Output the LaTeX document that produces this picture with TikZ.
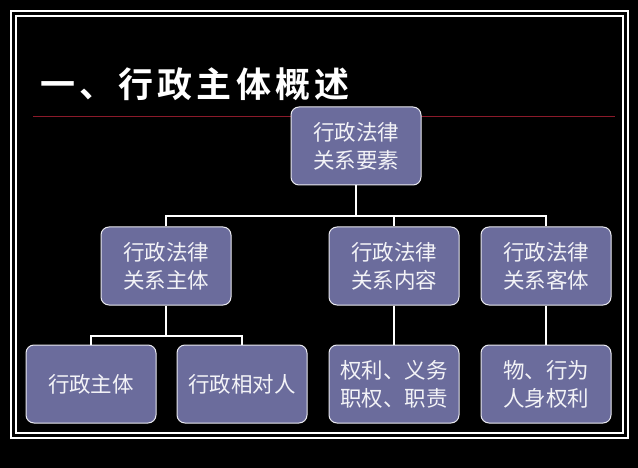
\documentclass[tikz,border=0pt]{standalone}
\usepackage{fontspec}
\newfontfamily\cjk{Noto Sans CJK SC}
\newfontfamily\cjkb[LetterSpace=12]{Noto Sans CJK SC Bold}
\definecolor{boxfill}{HTML}{6B6C9C}
\definecolor{redline}{HTML}{8B1A2A}
\begin{document}
\begin{tikzpicture}[x=1pt,y=-1pt,
  bx/.style={draw=white!85!boxfill,line width=1pt,fill=boxfill,rounded corners=8pt,minimum width=130pt,minimum height=78pt,inner sep=0pt,text=white!92!boxfill,font=\cjk\fontsize{21.5}{28}\selectfont,align=center},
  ln/.style={draw=white,line width=1.5pt}]
\fill[black] (0,0) rectangle (638,468);
\useasboundingbox (0,0) rectangle (638,468);
\draw[white,line width=2.5pt] (11,11) rectangle (628,438);
\draw[white,line width=1.5pt] (16,16) rectangle (623,433);
\draw[redline,line width=1pt] (33,117) -- (615,117);
\node[anchor=west,text=white,font=\cjkb\fontsize{35}{40}\selectfont,inner sep=0pt] (title) at (40,84) {一、行政主体概述};
\node[bx] (top) at (356,146) {行政法律\\关系要素};
\node[bx] (a) at (166,266) {行政法律\\关系主体};
\node[bx] (b) at (394,266) {行政法律\\关系内容};
\node[bx] (c) at (546,266) {行政法律\\关系客体};
\node[bx] (d) at (91,384) {行政主体};
\node[bx] (e) at (242,384) {行政相对人};
\node[bx] (f) at (394,384) {权利、义务\\职权、职责};
\node[bx] (g) at (546,384) {物、行为\\人身权利};
\coordinate (h1) at (356,216);
\draw[ln] (top.south) -- (h1);
\draw[ln] (a.north) |- (h1) -| (c.north);
\draw[ln] (h1 -| b.north) -- (b.north);
\coordinate (h2) at (166,336);
\draw[ln] (a.south) -- (h2);
\draw[ln] (d.north) |- (h2) -| (e.north);
\draw[ln] (b.south) -- (f.north);
\draw[ln] (c.south) -- (g.north);
\end{tikzpicture}
\end{document}
